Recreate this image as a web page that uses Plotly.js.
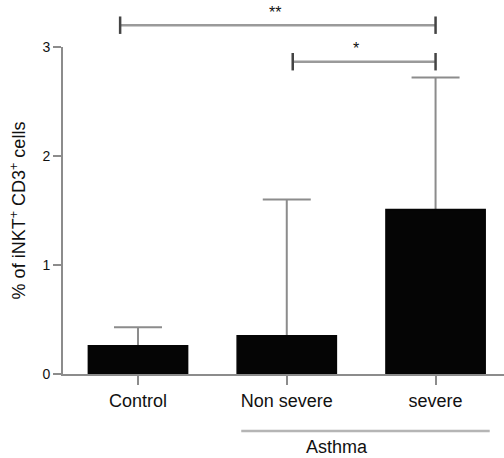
<!DOCTYPE html>
<html>
<head>
<meta charset="utf-8">
<script src="https://cdn.plot.ly/plotly-3.0.1.min.js"></script>
<style>html,body{margin:0;padding:0;background:#fff;}#chart{width:504px;height:458px;}</style>
</head>
<body>
<div id="chart"></div>
<script>
// ---- data ----
const categories = ['Control', 'Non severe', 'severe'];
const means = [0.26, 0.35, 1.51];
const errUpper = [0.17, 1.25, 1.21];
const yTicks = [0, 1, 2, 3];
const yTitle = '% of iNKT<sup>+</sup> CD3<sup>+</sup> cells';
// significance brackets
const bracketFrom = [-0.12, 1.04];
const bracketTo = [2, 2];
const bracketY = [3.2, 2.865];
const bracketLabels = ['**', '*'];
// group label below axis
const groupLabel = 'Asthma';
const groupFrom = 0.694, groupTo = 2.364;

// ---- layout helpers ----
const xr = [-0.504, 2.46];
const yr = [0, 3];
const xp = v => (v - xr[0]) / (xr[1] - xr[0]);
const yp = v => (v - yr[0]) / (yr[1] - yr[0]);
const font = 'Liberation Sans, Arial, Helvetica, sans-serif';

const traces = [
  { // carrier of error bars (drawn beneath the black bars)
    type: 'bar', x: categories, y: means,
    marker: {color: 'rgba(0,0,0,0)'},
    error_y: {type: 'data', symmetric: false, array: errUpper, arrayminus: means,
              color: '#8c8c8c', thickness: 2, width: 24},
    hoverinfo: 'skip', showlegend: false
  },
  {
    type: 'bar', x: categories, y: means,
    marker: {color: '#050505', line: {color: '#050505', width: 1.5}},
    showlegend: false
  }
];

const shapes = [];
const annotations = [];
for (let i = 0; i < bracketY.length; i++) {
  const x0 = xp(bracketFrom[i]), x1 = xp(bracketTo[i]), y = yp(bracketY[i]);
  const cap = 0.08 / (yr[1] - yr[0]);
  shapes.push({type: 'line', xref: 'paper', yref: 'paper', x0: x0, x1: x1, y0: y, y1: y,
               line: {color: '#9a9a9a', width: 2.5}});
  shapes.push({type: 'line', xref: 'paper', yref: 'paper', x0: x0, x1: x0, y0: y - cap, y1: y + cap,
               line: {color: '#444', width: 2.5}});
  shapes.push({type: 'line', xref: 'paper', yref: 'paper', x0: x1, x1: x1, y0: y - cap, y1: y + cap,
               line: {color: '#444', width: 2.5}});
  annotations.push({xref: 'paper', yref: 'paper', x: (x0 + x1) / 2 - 0.006, y: y + 0.008,
                    text: bracketLabels[i], showarrow: false, yanchor: 'bottom',
                    font: {family: font, size: 16, color: '#111'}});
}
shapes.push({type: 'line', xref: 'paper', yref: 'paper', x0: xp(groupFrom), x1: xp(groupTo),
             y0: yp(-0.523), y1: yp(-0.523), line: {color: '#b5b5b5', width: 2.5}});
annotations.push({xref: 'paper', yref: 'paper', x: xp((groupFrom + groupTo) / 2 + 0.03), y: yp(-0.67),
                  text: groupLabel, showarrow: false, yanchor: 'middle',
                  font: {family: font, size: 18, color: '#111'}});

const layout = {
  width: 504, height: 458,
  margin: {l: 63, r: 0, t: 47, b: 84, pad: 0},
  paper_bgcolor: '#fff', plot_bgcolor: '#fff',
  barmode: 'overlay', bargap: 0.333,
  font: {family: font, color: '#111'},
  xaxis: {
    range: xr, showgrid: false, zeroline: false,
    showline: true, linecolor: '#8c8c8c', linewidth: 2,
    ticks: 'outside', ticklen: 9, tickwidth: 2, tickcolor: '#8c8c8c',
    tickfont: {family: font, size: 18, color: '#111'}, fixedrange: true
  },
  yaxis: {
    range: yr, tickvals: yTicks, showgrid: false, zeroline: false,
    showline: true, linecolor: '#8c8c8c', linewidth: 2,
    ticks: 'outside', ticklen: 8, tickwidth: 2, tickcolor: '#8c8c8c',
    tickfont: {family: font, size: 14, color: '#111'},
    title: {text: yTitle, font: {family: font, size: 18, color: '#111'}, standoff: 12},
    fixedrange: true
  },
  shapes: shapes,
  annotations: annotations
};

Plotly.newPlot('chart', traces, layout, {displayModeBar: false, staticPlot: true});
</script>
</body>
</html>
